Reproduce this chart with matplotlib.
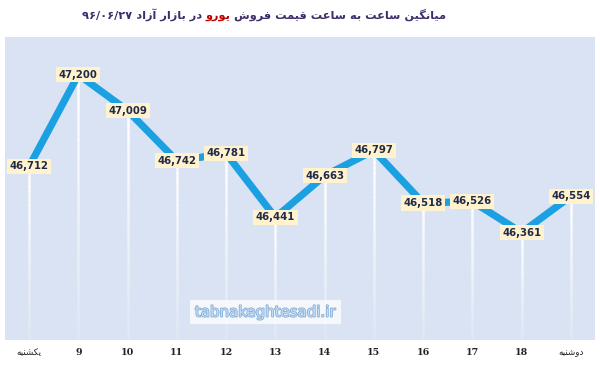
import numpy as np
import matplotlib
matplotlib.use("Agg")
import matplotlib.pyplot as plt
from matplotlib.collections import LineCollection
from matplotlib.offsetbox import TextArea, HPacker, AnchoredOffsetbox
import matplotlib.patheffects as pe

# Data
labels = ["یکشنبه", "9", "10", "11", "12", "13", "14", "15", "16", "17", "18", "دوشنبه"]
values = [46712, 47200, 47009, 46742, 46781, 46441, 46663, 46797, 46518, 46526, 46361, 46554]

title_left = "میانگین ساعت به ساعت قیمت فروش"
title_red = "یورو"
title_right = "در بازار آزاد"
title_date = "۹۶/۰۶/۲۷"

# simple Persian shaping (matplotlib has no text shaping)
DUAL = {'ب': 0xFE8F, 'ت': 0xFE95, 'ث': 0xFE99, 'ج': 0xFE9D, 'ح': 0xFEA1, 'خ': 0xFEA5,
        'س': 0xFEB1, 'ش': 0xFEB5, 'ص': 0xFEB9, 'ض': 0xFEBD, 'ط': 0xFEC1, 'ظ': 0xFEC5,
        'ع': 0xFEC9, 'غ': 0xFECD, 'ف': 0xFED1, 'ق': 0xFED5, 'ل': 0xFEDD, 'م': 0xFEE1,
        'ن': 0xFEE5, 'ه': 0xFEE9, 'پ': 0xFB56, 'چ': 0xFB7A, 'ک': 0xFB8E, 'گ': 0xFB92,
        'ی': 0xFBFC}
RIGHT = {'ا': 0xFE8D, 'آ': 0xFE81, 'د': 0xFEA9, 'ذ': 0xFEAB, 'ر': 0xFEAD, 'ز': 0xFEAF,
         'ژ': 0xFB8A, 'و': 0xFEED}


def shape(s):
    out = []
    for i, ch in enumerate(s):
        if ch not in DUAL and ch not in RIGHT:
            out.append(ch)
            continue
        prev = s[i - 1] if i > 0 else ''
        nxt = s[i + 1] if i + 1 < len(s) else ''
        join_prev = prev in DUAL
        join_next = ch in DUAL and (nxt in DUAL or nxt in RIGHT)
        base = DUAL.get(ch, RIGHT.get(ch))
        if join_prev and join_next:
            off = 3
        elif join_next:
            off = 2
        elif join_prev:
            off = 1
        else:
            off = 0
        out.append(chr(base + off))
    return ''.join(reversed(out))


x = np.arange(len(values))
y_lo, y_hi = 45790, 47400

fig = plt.figure(figsize=(6, 3.67), dpi=100)
fig.patch.set_facecolor("white")
ax = fig.add_axes([5 / 600, 27 / 367, 590 / 600, 303 / 367])
ax.set_facecolor("#dae3f3")
ax.set_xlim(-0.49, 11.49)
ax.set_ylim(y_lo, y_hi)

# fading white drop lines
for xi, v in zip(x, values):
    ys = np.linspace(v, y_lo, 40)
    segs = [[(xi, ys[k]), (xi, ys[k + 1])] for k in range(len(ys) - 1)]
    alphas = np.linspace(1.0, 0.15, len(segs))
    cols = [(1, 1, 1, a) for a in alphas]
    ax.add_collection(LineCollection(segs, colors=cols, linewidths=1.8, zorder=2))

ax.plot(x, values, color="#1ba1e2", lw=5.2, solid_capstyle="butt", zorder=3)

for xi, v in zip(x, values):
    ax.text(xi, v, f"{v:,}", ha="center", va="center", fontsize=7.3, fontweight="bold",
            color="#1f2a4a", zorder=5,
            bbox=dict(boxstyle="square,pad=0.25", fc="#fff2cc", ec="none"))

ax.set_xticks(x)
ax.set_xticklabels([shape(l) if not l.isdigit() else l for l in labels])
for t, l in zip(ax.get_xticklabels(), labels):
    if l.isdigit():
        t.set_fontfamily("DejaVu Serif")
        t.set_fontweight("bold")
        t.set_fontsize(6.8)
    else:
        t.set_fontfamily("DejaVu Sans")
        t.set_fontsize(6.3)
    t.set_color("#222222")
ax.tick_params(axis="x", length=0, pad=6)
ax.set_yticks([])
for sp in ax.spines.values():
    sp.set_visible(False)

# watermark
ax.text(0.442, 0.092, "tabnakeghtesadi.ir", transform=ax.transAxes, ha="center", va="center",
        fontsize=10.8, color="#c4dcf2", zorder=6,
        path_effects=[pe.withStroke(linewidth=1.1, foreground="#7eaad6")],
        bbox=dict(boxstyle="square,pad=0.3", fc="white", ec="none", alpha=0.75))

# title with red word
purple = "#3d2d6b"
tprops = dict(fontsize=8.2, fontweight="bold", family="DejaVu Sans")
parts = [
    TextArea(title_date + " " + shape(title_right) + " ", textprops=dict(color=purple, **tprops)),
    TextArea(shape(title_red), textprops=dict(color="#c00000", **tprops)),
    TextArea(" " + shape(title_left), textprops=dict(color=purple, **tprops)),
]
box = HPacker(children=parts, align="baseline", pad=0, sep=0)
anch = AnchoredOffsetbox(loc="center", child=box, frameon=False,
                         bbox_to_anchor=(264 / 600, 1 - 15 / 367), bbox_transform=fig.transFigure,
                         borderpad=0, pad=0)
fig.add_artist(anch)

fig.savefig("out.png", dpi=100)
